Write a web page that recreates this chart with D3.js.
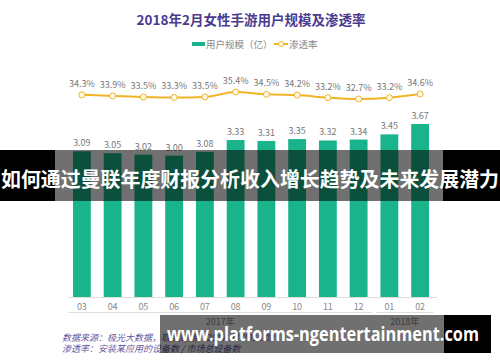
<!DOCTYPE html>
<html>
<head>
<meta charset="utf-8">
<script src="https://cdn.jsdelivr.net/npm/d3@7"></script>
<style>
  body { margin: 0; background: #fff; }
  svg { display: block; font-family: "Noto Sans CJK SC", "Noto Sans", sans-serif; }
</style>
</head>
<body>
<svg width="500" height="362"></svg>
<script>
// data
var months = ["03", "04", "05", "06", "07", "08", "09", "10", "11", "12", "01", "02"];
var users = [3.09, 3.05, 3.02, 3.00, 3.08, 3.33, 3.31, 3.35, 3.32, 3.34, 3.45, 3.67];
var rate = [34.3, 33.9, 33.5, 33.3, 33.5, 35.4, 34.5, 34.2, 33.2, 32.7, 33.2, 34.6];
var years = [{ label: "2017年", from: "03", to: "12" }, { label: "2018年", from: "01", to: "02" }];

var svg = d3.select("svg");

var teal = "#1ab48c", gold = "#f0b429", purple = "#4a3b8f";

// scales
var x = d3.scaleBand().domain(months).range([66.5, 435.5]).paddingInner(0.42).paddingOuter(0.21);
var y = d3.scaleLinear().domain([0, 3.67]).range([297, 124]);
var yr = d3.scaleLinear().domain([32.7, 35.4]).range([99, 92]);

// title
svg.append("text")
  .attr("x", 251).attr("y", 25)
  .attr("text-anchor", "middle")
  .attr("font-size", 13.5).attr("font-weight", "bold")
  .attr("fill", purple)
  .text("2018年2月女性手游用户规模及渗透率");

// legend
var lg = svg.append("g").attr("font-size", 9.5).attr("fill", "#888");
lg.append("rect").attr("x", 192).attr("y", 42).attr("width", 13).attr("height", 4).attr("fill", teal);
lg.append("text").attr("x", 206).attr("y", 48).text("用户规模（亿）");
lg.append("line").attr("x1", 274).attr("x2", 288).attr("y1", 44).attr("y2", 44)
  .attr("stroke", gold).attr("stroke-width", 2);
lg.append("circle").attr("cx", 281).attr("cy", 44).attr("r", 2.5)
  .attr("fill", "#fff").attr("stroke", gold).attr("stroke-width", 1);
lg.append("text").attr("x", 289).attr("y", 48).text("渗透率");

// bars
svg.append("g").selectAll("rect")
  .data(users)
  .enter().append("rect")
  .attr("x", function(d, i) { return x(months[i]); })
  .attr("y", function(d) { return y(d); })
  .attr("width", x.bandwidth())
  .attr("height", function(d) { return y(0) - y(d); })
  .attr("fill", teal);

svg.append("g").selectAll("text")
  .data(users)
  .enter().append("text")
  .attr("x", function(d, i) { return x(months[i]) + x.bandwidth() / 2; })
  .attr("y", function(d) { return y(d) - 5; })
  .attr("text-anchor", "middle")
  .attr("font-size", 9).attr("fill", "#777")
  .text(function(d) { return d.toFixed(2); });

// x axis
var xAxis = svg.append("g")
  .attr("transform", "translate(0," + y(0) + ")")
  .call(d3.axisBottom(x).tickSize(0).tickPadding(7));
xAxis.select(".domain").attr("stroke", "#ddd").attr("d", "M68,0.5H437");
xAxis.selectAll("text").attr("font-size", 9).attr("fill", "#888")
  .attr("font-family", "'Noto Sans CJK SC', sans-serif");

// year groups
var yg = svg.append("g");
years.forEach(function(g) {
  var x0 = x(g.from) - x.step() * x.paddingInner() / 2 + 2;
  var x1 = x(g.to) + x.bandwidth() + x.step() * x.paddingInner() / 2 - 2;
  yg.append("line").attr("x1", x0).attr("x2", x1).attr("y1", 312.5).attr("y2", 312.5)
    .attr("stroke", "#ddd");
  yg.append("text").attr("x", (x0 + x1) / 2).attr("y", 325)
    .attr("text-anchor", "middle").attr("font-size", 9).attr("fill", "#888")
    .text(g.label);
});

// rate line
var line = d3.line()
  .x(function(d, i) { return x(months[i]) + x.bandwidth() / 2; })
  .y(function(d) { return yr(d); })
  .curve(d3.curveMonotoneX);

svg.append("path")
  .datum(rate)
  .attr("d", line)
  .attr("fill", "none")
  .attr("stroke", gold)
  .attr("stroke-width", 2);

svg.append("g").selectAll("circle")
  .data(rate)
  .enter().append("circle")
  .attr("cx", function(d, i) { return x(months[i]) + x.bandwidth() / 2; })
  .attr("cy", function(d) { return yr(d); })
  .attr("r", 3)
  .attr("fill", "#fffbe8").attr("stroke", gold).attr("stroke-width", 1);

svg.append("g").selectAll("text")
  .data(rate)
  .enter().append("text")
  .attr("x", function(d, i) { return x(months[i]) + x.bandwidth() / 2; })
  .attr("y", function(d) { return yr(d) - 8; })
  .attr("text-anchor", "middle")
  .attr("font-size", 9).attr("fill", "#777")
  .text(function(d) { return d.toFixed(1) + "%"; });

// source note
var src = svg.append("g").attr("font-size", 9).attr("fill", purple)
  .attr("font-style", "italic").attr("opacity", 0.85);
src.append("text").attr("x", 62).attr("y", 341).text("数据来源：极光大数据，取数周期：2017.03-2018.02");
src.append("text").attr("x", 62).attr("y", 352).text("渗透率：安装某应用的设备数 / 市场总设备数");

// overlay banner
svg.append("rect").attr("x", 0).attr("y", 150).attr("width", 55).attr("height", 51).attr("fill", "#000");
svg.append("rect").attr("x", 443).attr("y", 150).attr("width", 57).attr("height", 51).attr("fill", "#000");
svg.append("rect").attr("x", 55).attr("y", 150).attr("width", 388).attr("height", 51)
  .attr("fill", "#000").attr("opacity", 0.56);
svg.append("text")
  .attr("x", 250).attr("y", 187)
  .attr("text-anchor", "middle")
  .attr("font-size", 20.5).attr("font-weight", "bold").attr("fill", "#fff")
  .attr("textLength", 498).attr("lengthAdjust", "spacingAndGlyphs")
  .text("如何通过曼联年度财报分析收入增长趋势及未来发展潜力");

// url banner
svg.append("rect").attr("x", 160).attr("y", 315).attr("width", 284).attr("height", 38)
  .attr("fill", "#000").attr("opacity", 0.56);
svg.append("rect").attr("x", 444).attr("y", 315).attr("width", 47).attr("height", 38).attr("fill", "#000");
svg.append("text")
  .attr("x", 167).attr("y", 341)
  .attr("font-family", "'Open Sans', 'Noto Sans', sans-serif")
  .attr("font-size", 19).attr("font-weight", "bold").attr("fill", "#fff")
  .attr("textLength", 312).attr("lengthAdjust", "spacingAndGlyphs")
  .text("www.platforms-ngentertainment.com");
</script>
</body>
</html>
